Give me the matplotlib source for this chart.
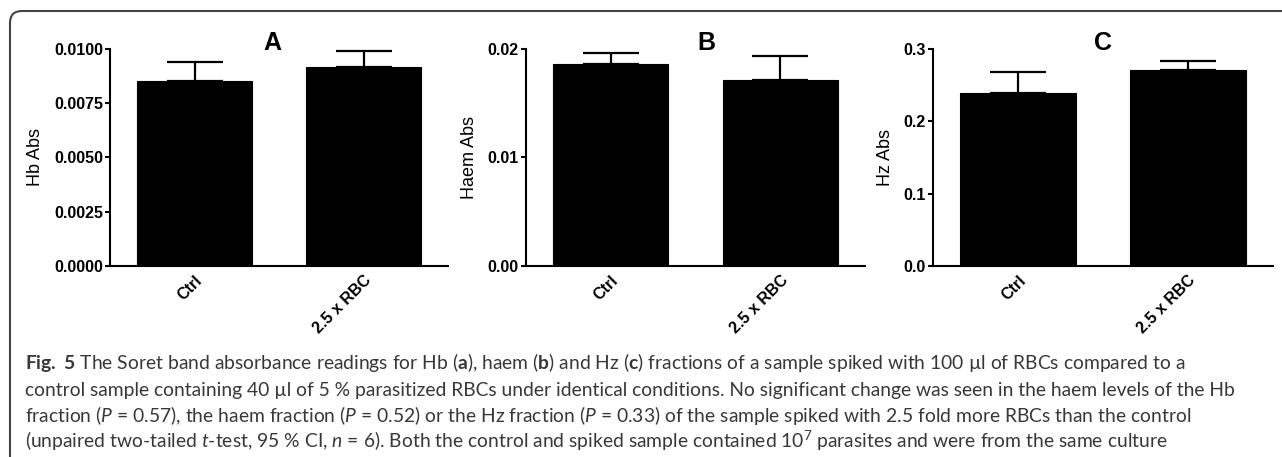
import matplotlib
matplotlib.use("Agg")
import matplotlib.pyplot as plt
from matplotlib.patches import FancyBboxPatch

groups = ["Ctrl", "2.5 x RBC"]

hb_mean = [0.00854, 0.00918]
hb_err = [0.00085, 0.00072]
haem_mean = [0.01859, 0.01714]
haem_err = [0.00107, 0.00221]
hz_mean = [0.2396, 0.2710]
hz_err = [0.0281, 0.0129]

panel_letters = ["A", "B", "C"]
ylabels = ["Hb Abs", "Haem Abs", "Hz Abs"]
yticks = [
    [0.0, 0.0025, 0.005, 0.0075, 0.01],
    [0.0, 0.01, 0.02],
    [0.0, 0.1, 0.2, 0.3],
]
ytick_fmt = ["{:.4f}", "{:.2f}", "{:.1f}"]

caption_lines = [
    r"$\mathbf{Fig.\ 5}$ The Soret band absorbance readings for Hb ($\mathbf{a}$), haem ($\mathbf{b}$) "
    r"and Hz ($\mathbf{c}$) fractions of a sample spiked with 100 µl of RBCs compared to a",
    "control sample containing 40 µl of 5 % parasitized RBCs under identical conditions. "
    "No significant change was seen in the haem levels of the Hb",
    r"fraction ($\mathit{P}$ = 0.57), the haem fraction ($\mathit{P}$ = 0.52) or the Hz fraction "
    r"($\mathit{P}$ = 0.33) of the sample spiked with 2.5 fold more RBCs than the control",
    r"(unpaired two-tailed $\mathit{t}$-test, 95 % CI, $\mathit{n}$ = 6). Both the control and spiked "
    r"sample contained $10^{7}$ parasites and were from the same culture",
]

plt.rcParams["font.family"] = ["Liberation Sans", "DejaVu Sans"]
plt.rcParams["mathtext.fontset"] = "custom"
plt.rcParams["mathtext.rm"] = "Lato"
plt.rcParams["mathtext.it"] = "Lato:italic"
plt.rcParams["mathtext.bf"] = "Lato:bold"

W, H = 1282, 457
fig = plt.figure(figsize=(W / 100, H / 100), dpi=100)

# axes boxes in pixels: left, right ; top 49, bottom 266
boxes = [(110, 448), (526, 865), (933, 1273)]
top_px, bot_px = 49, 266
letter_x = [272, 706, 1103]

means = [hb_mean, haem_mean, hz_mean]
errs = [hb_err, haem_err, hz_err]

for i in range(3):
    l, r = boxes[i]
    ax = fig.add_axes([l / W, 1 - bot_px / H, (r - l) / W, (bot_px - top_px) / H])
    x = list(range(len(groups)))
    ax.bar(x, means[i], width=0.68, color="black", edgecolor="black", linewidth=0.8, zorder=2)
    ax.errorbar(x, means[i], yerr=[[0, 0], errs[i]], fmt="none", ecolor="black",
                elinewidth=1.6, capsize=20, capthick=1.6, zorder=1)
    ax.set_xlim(-0.5, 1.5)
    ax.set_ylim(yticks[i][0], yticks[i][-1])
    ax.set_yticks(yticks[i])
    ax.set_yticklabels([ytick_fmt[i].format(v) for v in yticks[i]],
                       fontsize=11.5, fontweight="bold")
    ax.set_xticks(x)
    ax.set_xticklabels(groups, rotation=45, ha="right", va="top",
                       rotation_mode="anchor", fontsize=11.5, fontweight="bold")
    ax.tick_params(axis="x", length=0, pad=5)
    ax.tick_params(axis="y", length=3.6, width=1.5, pad=1.5)
    for s in ["top", "right"]:
        ax.spines[s].set_visible(False)
    for s in ["left", "bottom"]:
        ax.spines[s].set_linewidth(1.5)
    ax.set_ylabel(ylabels[i], fontsize=13, labelpad=7)
    fig.text(letter_x[i] / W, 1 - 50 / H, panel_letters[i], fontsize=18,
             fontweight="bold", ha="center", va="baseline")

baselines = [369, 396, 422, 448]
for line, yb in zip(caption_lines, baselines):
    fig.text(25 / W, 1 - yb / H, line, fontsize=13.9, family="Lato",
             color="#383838", ha="left", va="baseline")

# rounded frame around the figure, running off the right and bottom edges
frame = FancyBboxPatch((0.10, -1.0), 14.0, 4.46 + 1.0,
                       boxstyle="round,pad=0,rounding_size=0.12",
                       transform=fig.dpi_scale_trans, fill=False,
                       edgecolor="#444444", linewidth=1.5, clip_on=False)
fig.add_artist(frame)

fig.savefig("out.png", dpi=100)
